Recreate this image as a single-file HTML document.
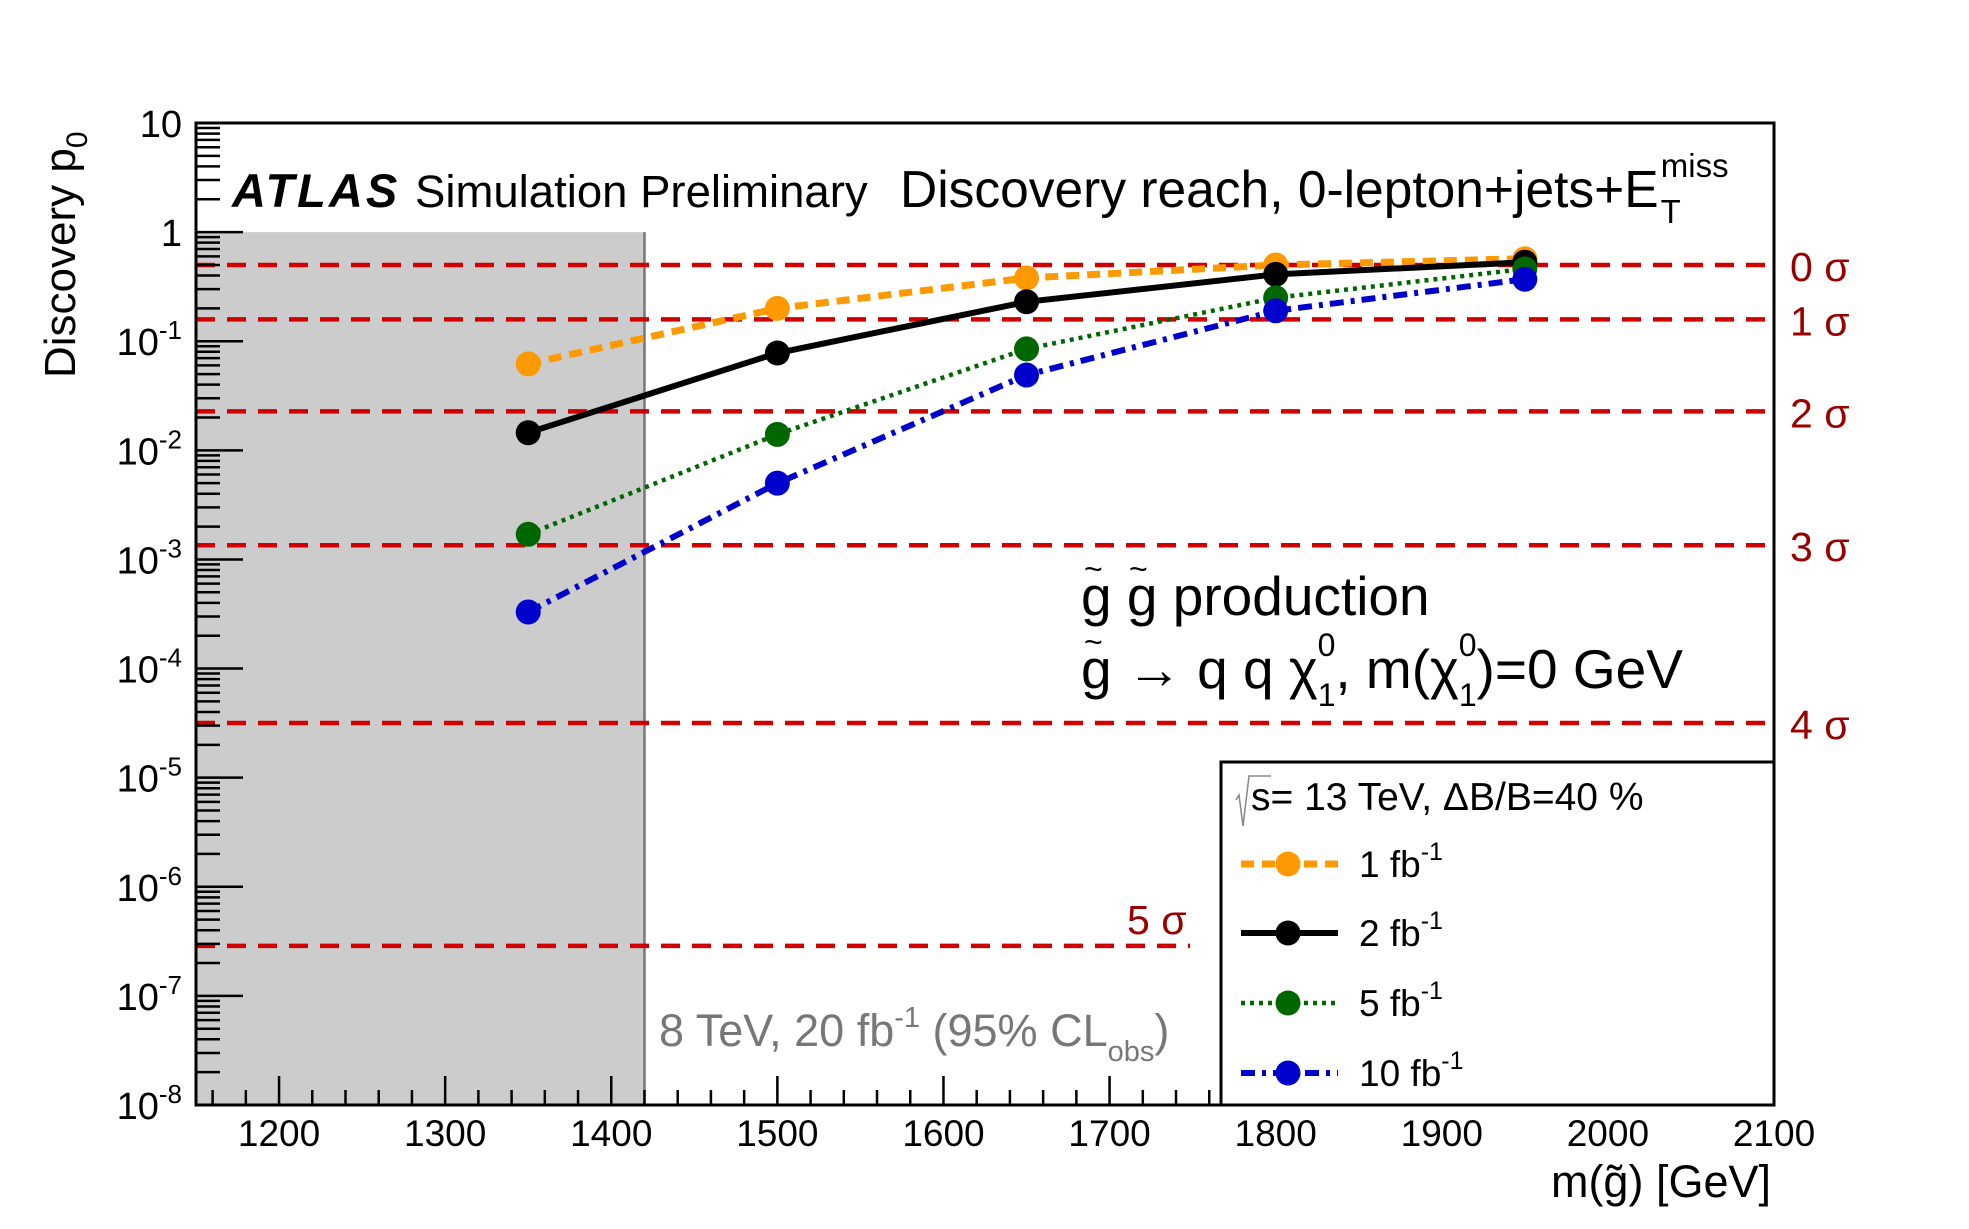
<!DOCTYPE html>
<html><head><meta charset="utf-8"><style>
html,body{margin:0;padding:0;background:#fff;}
svg{display:block;font-family:"Liberation Sans",Arial,sans-serif;}
</style></head><body>
<svg id="chart" width="1969" height="1229" viewBox="0 0 1969 1229" xmlns="http://www.w3.org/2000/svg">
<g id="plot"></g>
</svg>
<script>
const masses = [1350, 1500, 1650, 1800, 1950];
const p1fb = [0.062, 0.20, 0.38, 0.50, 0.57];
const p2fb = [0.0145, 0.078, 0.23, 0.41, 0.53];
const p5fb = [0.0017, 0.014, 0.085, 0.25, 0.46];
const p10fb = [0.00033, 0.005, 0.049, 0.19, 0.37];
const xTicks = [1200, 1300, 1400, 1500, 1600, 1700, 1800, 1900, 2000, 2100];
const yExps = [1, 0, -1, -2, -3, -4, -5, -6, -7, -8];
const sigmaP = [0.5, 0.1587, 0.02275, 0.00135, 0.0000317, 0.000000287];
const sigmaLabels = ['0 σ', '1 σ', '2 σ', '3 σ', '4 σ', '5 σ'];

const L = 196, R = 1774, T = 123, B = 1105;
const xmin = 1150, xmax = 2100, lmin = -8, lmax = 1;
function X(m) { return L + (m - xmin) / (xmax - xmin) * (R - L); }
function Y(p) { return T + (lmax - Math.log10(p)) / (lmax - lmin) * (B - T); }

const NS = 'http://www.w3.org/2000/svg';
const g = document.getElementById('plot');
function mk(tag, attrs, parent) {
  const e = document.createElementNS(NS, tag);
  for (const k in attrs) e.setAttribute(k, attrs[k]);
  (parent || g).appendChild(e);
  return e;
}

const box = mk('rect', {x: L, y: Y(1), width: X(1420) - L, height: B - Y(1), fill: '#cccccc'});


const boxEdge = mk('line', {x1: X(1420), y1: Y(1), x2: X(1420), y2: B, stroke: '#777', 'stroke-width': 2.5});



sigmaP.forEach((p, i) => {
  const x2 = i === 5 ? 1190 : R;
  const ln = mk('line', {x1: L, y1: Y(p), x2: x2, y2: Y(p), stroke: '#d00000', 'stroke-width': 4.5, 'stroke-dasharray': '19 12'});
  
  
  const t = mk('text', {x: i === 5 ? 1127 : 1790, y: i === 5 ? Y(p) - 12 : Y(p) + 16, 'font-size': 41, fill: '#990000'});
  t.textContent = sigmaLabels[i];
  
  
});

const frame = mk('rect', {x: L, y: T, width: R - L, height: B - T, fill: 'none', stroke: '#000', 'stroke-width': 3});



for (let m = 1160; m <= 2100; m += 20) {
  const major = m % 100 === 0;
  mk('line', {x1: X(m), y1: B, x2: X(m), y2: B - (major ? 29 : 15), stroke: '#000', 'stroke-width': 2.5});
}
xTicks.forEach(m => {
  const t = mk('text', {x: X(m), y: B + 41, 'font-size': 37, 'text-anchor': 'middle'});
  t.textContent = m;
  
  
});

for (let e = lmin; e < lmax; e++) {
  for (let k = 1; k <= 9; k++) {
    const p = k * Math.pow(10, e);
    mk('line', {x1: L, y1: Y(p), x2: L + (k === 1 ? 47 : 24), y2: Y(p), stroke: '#000', 'stroke-width': 2.5});
  }
}
mk('line', {x1: L, y1: Y(10), x2: L + 47, y2: Y(10), stroke: '#000', 'stroke-width': 2.5});
yExps.forEach(e => {
  const t = mk('text', {x: 182, y: Y(Math.pow(10, e)) + 14, 'font-size': 38, 'text-anchor': 'end'});
  
  
  if (e === 1) t.textContent = '10';
  else if (e === 0) t.textContent = '1';
  else {
    const a = mk('tspan', {}, t); a.textContent = '10';
    const b = mk('tspan', {dy: -16, 'font-size': 26}, t); b.textContent = String(e);
  }
});

const series = [
  {name: '1fb', vals: p1fb, color: '#ff9900', w: 7, dash: '13 8'},
  {name: '2fb', vals: p2fb, color: '#000000', w: 6, dash: ''},
  {name: '5fb', vals: p5fb, color: '#006600', w: 4.5, dash: '4 5'},
  {name: '10fb', vals: p10fb, color: '#0000cc', w: 6, dash: '14 7 4 7'}
];
series.forEach(s => {
  const pts = masses.map((m, i) => X(m).toFixed(1) + ',' + Y(s.vals[i]).toFixed(1)).join(' ');
  const pl = mk('polyline', {points: pts, fill: 'none', stroke: s.color, 'stroke-width': s.w, 'stroke-dasharray': s.dash});
  
  
  masses.forEach((m, i) => {
    const c = mk('circle', {cx: X(m), cy: Y(s.vals[i]), r: 12.5, fill: s.color});
    
    
  });
});

const lg = mk('g', {});


mk('rect', {x: 1221, y: 762, width: 1774 - 1221, height: 1105 - 762, fill: '#fff', stroke: '#000', 'stroke-width': 3}, lg);
mk('path', {d: 'M1236 800 L1239 795 L1243 826 L1249 776 L1271 776', fill: 'none', stroke: '#888', 'stroke-width': 1.5}, lg);
const hd = mk('text', {x: 1251, y: 810, 'font-size': 39}, lg);
hd.textContent = 's= 13 TeV, ΔB/B=40 %';


const labs = ['1 fb', '2 fb', '5 fb', '10 fb'];
const ly = [864, 933, 1003, 1073];
series.forEach((s, i) => {
  const e = mk('g', {}, lg);
  
  
  mk('line', {x1: 1241, y1: ly[i], x2: 1338, y2: ly[i], stroke: s.color, 'stroke-width': s.w, 'stroke-dasharray': s.dash}, e);
  mk('circle', {cx: 1288, cy: ly[i], r: 12.5, fill: s.color}, e);
  const t = mk('text', {x: 1359, y: ly[i] + 13, 'font-size': 37}, e);
  const a = mk('tspan', {}, t); a.textContent = labs[i];
  const b = mk('tspan', {dy: -17, 'font-size': 25}, t); b.textContent = '-1';
});
</script>
<div style="position:absolute;left:0;top:0;width:1969px;height:1229px;pointer-events:none">
<svg width="1969" height="1229" viewBox="0 0 1969 1229" style="font-family:'Liberation Sans',Arial,sans-serif">
  <text x="232" y="207" font-size="47" font-weight="bold" font-style="italic" letter-spacing="3">ATLAS</text>
  <text x="415" y="207" font-size="45.5">Simulation Preliminary</text>
  <text x="900" y="207" font-size="51.5">Discovery reach, 0-lepton+jets+E<tspan font-size="33" dx="2" dy="16">T</tspan><tspan font-size="33" dx="-20" dy="-46">miss</tspan></text>
  <g font-size="55">
    <text x="1081" y="615">g g  production</text>
    <text x="1084" y="580" font-size="32">~</text>
    <text x="1129" y="580" font-size="32">~</text>
    <text x="1081" y="688">g → q q χ<tspan font-size="32" dy="18">1</tspan><tspan font-size="32" dx="-18" dy="-50">0</tspan><tspan dy="32">, m(χ</tspan><tspan font-size="32" dy="18">1</tspan><tspan font-size="32" dx="-18" dy="-50">0</tspan><tspan dy="32">)=0 GeV</tspan></text>
    <text x="1084" y="653" font-size="32">~</text>
  </g>
  <text x="659" y="1046" font-size="45" fill="#777">8 TeV, 20 fb<tspan font-size="29" dy="-19">-1</tspan><tspan dy="19"> (95% CL</tspan><tspan font-size="29" dy="15">obs</tspan><tspan dy="-15">)</tspan></text>
  <text transform="translate(75,378) rotate(-90)" font-size="44">Discovery p<tspan font-size="30" dy="12">0</tspan></text>
  <text x="1771" y="1197" font-size="45" text-anchor="end">m(g̃) [GeV]</text>
</svg>
</div>
</body></html>
